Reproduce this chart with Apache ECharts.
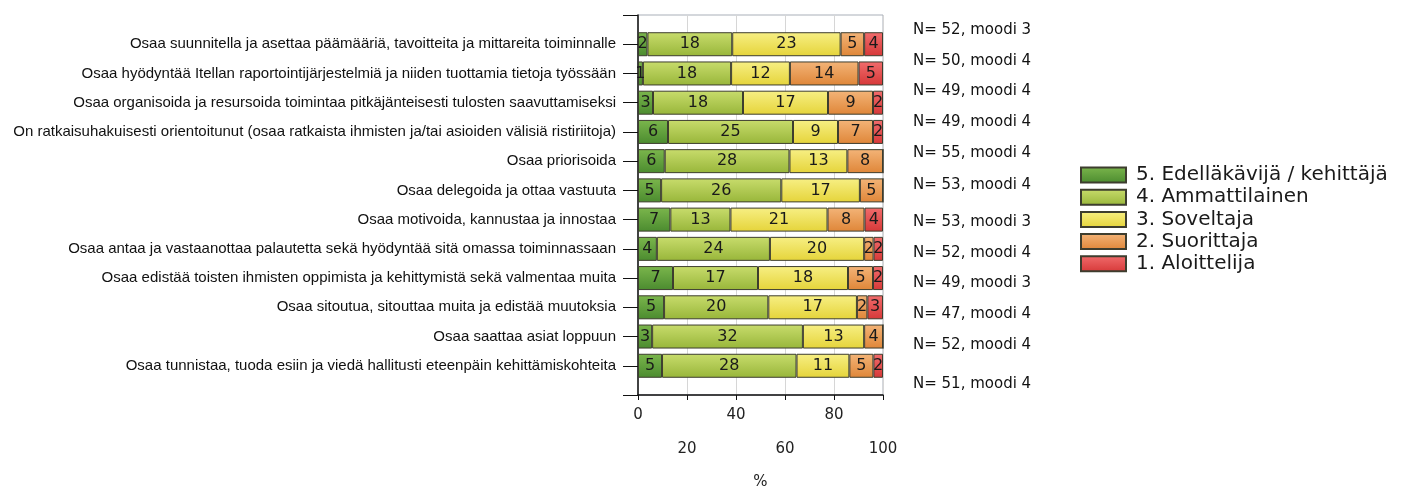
<!DOCTYPE html>
<html>
<head>
<meta charset="utf-8">
<script src="https://cdn.jsdelivr.net/npm/echarts@6/dist/echarts.min.js"></script>
<style>
  html, body { margin: 0; padding: 0; background: #fff; }
  #chart { width: 1414px; height: 489px; }
</style>
</head>
<body>
<div id="chart"></div>
<script>
const skills = [
  "Osaa suunnitella ja asettaa päämääriä, tavoitteita ja mittareita toiminnalle",
  "Osaa hyödyntää Itellan raportointijärjestelmiä ja niiden tuottamia tietoja työssään",
  "Osaa organisoida ja resursoida toimintaa pitkäjänteisesti tulosten saavuttamiseksi",
  "On ratkaisuhakuisesti orientoitunut (osaa ratkaista ihmisten ja/tai asioiden välisiä ristiriitoja)",
  "Osaa priorisoida",
  "Osaa delegoida ja ottaa vastuuta",
  "Osaa motivoida, kannustaa ja innostaa",
  "Osaa antaa ja vastaanottaa palautetta sekä hyödyntää sitä omassa toiminnassaan",
  "Osaa edistää toisten ihmisten oppimista ja kehittymistä sekä valmentaa muita",
  "Osaa sitoutua, sitouttaa muita ja edistää muutoksia",
  "Osaa saattaa asiat loppuun",
  "Osaa tunnistaa, tuoda esiin ja viedä hallitusti eteenpäin kehittämiskohteita"
];

// answer counts per level, one entry per skill
const level5 = [2, 1, 3, 6, 6, 5, 7, 4, 7, 5, 3, 5];
const level4 = [18, 18, 18, 25, 28, 26, 13, 24, 17, 20, 32, 28];
const level3 = [23, 12, 17, 9, 13, 17, 21, 20, 18, 17, 13, 11];
const level2 = [5, 14, 9, 7, 8, 5, 8, 2, 5, 2, 4, 5];
const level1 = [4, 5, 2, 2, 0, 0, 4, 2, 2, 3, 0, 2];

const nValues = [52, 50, 49, 49, 55, 53, 53, 52, 49, 47, 52, 51];
const modes = [3, 4, 4, 4, 4, 4, 3, 4, 3, 4, 4, 4];

const levelNames = [
  "5. Edelläkävijä / kehittäjä",
  "4. Ammattilainen",
  "3. Soveltaja",
  "2. Suorittaja",
  "1. Aloittelija"
];
const xTicks = [0, 20, 40, 60, 80, 100];

const levels = [level5, level4, level3, level2, level1];
const gradients = [
  ["#7bb64c", "#4b8b2f"],
  ["#c8dc6c", "#98b63a"],
  ["#f7ef84", "#e5d43a"],
  ["#f3b478", "#df8638"],
  ["#f16c6c", "#d63838"]
];

const chart = echarts.init(document.getElementById("chart"), null, { renderer: "canvas" });

const series = levels.map((counts, k) => ({
  name: levelNames[k],
  type: "bar",
  stack: "all",
  barWidth: 24,
  itemStyle: {
    color: new echarts.graphic.LinearGradient(0, 0, 0, 1, [
      { offset: 0, color: gradients[k][0] },
      { offset: 1, color: gradients[k][1] }
    ]),
    borderColor: "#3d3d2e",
    borderWidth: 1
  },
  label: {
    show: true,
    position: "inside",
    color: "#1a1a1a",
    fontFamily: "DejaVu Sans",
    fontSize: 16,
    formatter: (p) => (p.data && p.data.count ? String(p.data.count) : "")
  },
  data: [null].concat(
    counts.map((c, i) => ({ value: (c / nValues[i]) * 100, count: c })),
    [null]
  )
}));

chart.setOption({
  animation: false,
  backgroundColor: "#fff",
  grid: {
    left: 638, right: 531, top: 15, bottom: 94,
    outerBoundsMode: "none",
    show: true, borderColor: "#a9afb8", borderWidth: 1, backgroundColor: "transparent"
  },
  legend: {
    orient: "vertical",
    left: 1075,
    top: 160,
    padding: 5,
    itemWidth: 45,
    itemHeight: 15,
    itemGap: 2.2,
    icon: "rect",
    data: levelNames,
    formatter: (name) => "{t|" + name + "}",
    textStyle: {
      rich: {
        t: { fontFamily: "DejaVu Sans", fontSize: 20, color: "#1a1a1a", padding: [0, 0, 0, 5] }
      }
    }
  },
  xAxis: {
    type: "value",
    min: 0,
    max: 100,
    interval: 20,
    name: "%",
    nameLocation: "middle",
    nameGap: 80,
    nameTextStyle: { fontFamily: "DejaVu Sans", fontSize: 15, color: "#222" },
    axisLine: { show: true, lineStyle: { color: "#111", width: 1.5 } },
    axisTick: { show: true, length: 5, lineStyle: { color: "#111" } },
    axisLabel: {
      margin: 12,
      fontFamily: "DejaVu Sans",
      fontSize: 15,
      color: "#222",
      lineHeight: 17,
      formatter: (v) => {
        const i = xTicks.indexOf(v);
        return i % 2 === 1 ? "\n\n" + v : String(v);
      }
    },
    splitLine: { show: true, lineStyle: { color: "#d6d6d6" } }
  },
  yAxis: {
    type: "category",
    inverse: true,
    boundaryGap: false,
    data: [""].concat(skills, [""]),
    axisLine: { show: true, lineStyle: { color: "#111", width: 1.5 } },
    axisTick: { show: true, length: 15, lineStyle: { color: "#111" } },
    axisLabel: {
      margin: 22,
      fontFamily: "Liberation Sans",
      fontSize: 15,
      color: "#111",
      interval: 0
    },
    splitLine: { show: false }
  },
  graphic: (() => {
    const tops = [32, 63, 93, 124, 155, 187, 224, 255, 285, 316, 347, 386];
    return nValues.map((n, i) => ({
      type: "text",
      left: 913,
      top: tops[i] - 9,
      style: {
        text: "N= " + n + ", moodi " + modes[i],
        fontFamily: "DejaVu Sans",
        fontSize: 15,
        fill: "#111"
      }
    }));
  })(),
  series: series
});
</script>
</body>
</html>
